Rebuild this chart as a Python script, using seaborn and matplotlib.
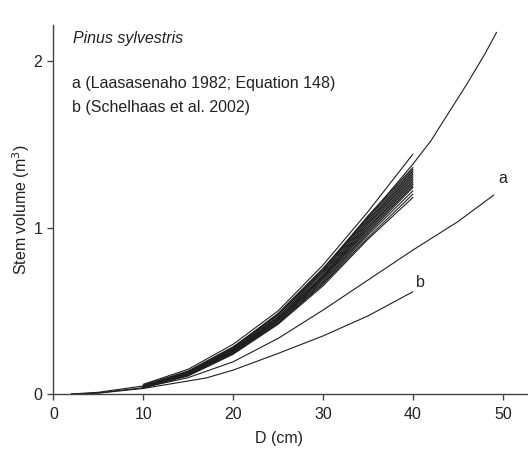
import numpy as np
import pandas as pd
import matplotlib
matplotlib.use('Agg')
import matplotlib.pyplot as plt
import seaborn as sns

sns.set_style('ticks')
plt.rcParams['font.family'] = ['Liberation Sans', 'DejaVu Sans']
plt.rcParams['font.size'] = 11.5

# long curve (top, extends to ~49 cm)
x_long = [2, 5, 10, 15, 20, 25, 30, 35, 40, 42, 44, 46, 48, 49.3]
y_long = [0.002, 0.012, 0.05, 0.135, 0.28, 0.485, 0.755, 1.06, 1.38, 1.52, 1.69, 1.86, 2.04, 2.17]

# curve a (Laasasenaho 1982)
x_a = [2, 5, 10, 15, 20, 25, 30, 35, 40, 45, 49]
y_a = [0.001, 0.008, 0.04, 0.10, 0.195, 0.335, 0.505, 0.685, 0.865, 1.035, 1.195]

# curve b (Schelhaas et al. 2002)
x_b = [2, 5, 10, 15, 17, 20, 25, 30, 35, 40]
y_b = [0.001, 0.007, 0.035, 0.08, 0.098, 0.145, 0.245, 0.35, 0.47, 0.615]

# bundle of curves between 10 and 40 cm
x_bundle = [10, 15, 20, 25, 30, 35, 40]
bundle = [
    [0.06, 0.15, 0.30, 0.50, 0.775, 1.095, 1.44],
    [0.05, 0.135, 0.28, 0.48, 0.75, 1.07, 1.36],
    [0.045, 0.13, 0.275, 0.475, 0.74, 1.06, 1.35],
    [0.055, 0.14, 0.285, 0.48, 0.74, 1.05, 1.34],
    [0.045, 0.125, 0.27, 0.465, 0.73, 1.04, 1.33],
    [0.05, 0.13, 0.27, 0.465, 0.725, 1.035, 1.32],
    [0.04, 0.12, 0.26, 0.455, 0.715, 1.025, 1.31],
    [0.045, 0.125, 0.265, 0.455, 0.71, 1.02, 1.30],
    [0.05, 0.13, 0.265, 0.455, 0.705, 1.01, 1.29],
    [0.04, 0.12, 0.255, 0.445, 0.70, 1.0, 1.28],
    [0.045, 0.125, 0.26, 0.445, 0.695, 0.995, 1.27],
    [0.04, 0.115, 0.25, 0.44, 0.69, 0.985, 1.26],
    [0.045, 0.12, 0.255, 0.44, 0.68, 0.975, 1.25],
    [0.04, 0.115, 0.245, 0.43, 0.675, 0.965, 1.24],
    [0.045, 0.12, 0.25, 0.43, 0.665, 0.955, 1.22],
    [0.04, 0.115, 0.245, 0.425, 0.66, 0.94, 1.20],
    [0.04, 0.11, 0.24, 0.42, 0.65, 0.93, 1.18],
]

rows = []
for xi, yi in zip(x_long, y_long):
    rows.append(('long', xi, yi))
for xi, yi in zip(x_a, y_a):
    rows.append(('a', xi, yi))
for xi, yi in zip(x_b, y_b):
    rows.append(('b', xi, yi))
for k, ys in enumerate(bundle):
    for xi, yi in zip(x_bundle, ys):
        rows.append(('m%d' % k, xi, yi))
df = pd.DataFrame(rows, columns=['curve', 'D', 'V'])

fig = plt.figure(figsize=(5.28, 4.49), dpi=100)
ax = fig.add_axes([0.101, 0.1218, 0.899, 0.8225])
sns.lineplot(data=df, x='D', y='V', units='curve', estimator=None, sort=False,
             color='#1e1e1e', lw=0.8, ax=ax)

ax.set_xlim(0, 52.8)
ax.set_ylim(0, 2.214)
ax.set_xticks([0, 10, 20, 30, 40, 50])
ax.set_yticks([0, 1, 2])
sns.despine(ax=ax)
for s in ['left', 'bottom']:
    ax.spines[s].set_color('#444444')
    ax.spines[s].set_linewidth(1.0)
ax.tick_params(axis='both', colors='#444444', labelcolor='#222222', length=4, width=1.0, labelsize=11.5)
ax.tick_params(axis='x', pad=5)
ax.tick_params(axis='y', pad=4)

ax.set_xlabel('D (cm)', fontsize=11.5, color='#222222')
ax.set_ylabel('Stem volume (m$^3$)', fontsize=11.5, color='#222222', labelpad=1)
ax.xaxis.set_label_coords(0.476, -0.098)

ax.text(2.2, 2.104, 'Pinus sylvestris', style='italic', fontsize=11.5, color='#222222')
ax.text(2.05, 1.834, 'a (Laasasenaho 1982; Equation 148)', fontsize=11.5, color='#222222')
ax.text(2.05, 1.69, 'b (Schelhaas et al. 2002)', fontsize=11.5, color='#222222')
ax.text(49.5, 1.265, 'a', fontsize=11.5, color='#222222')
ax.text(40.3, 0.645, 'b', fontsize=11.5, color='#222222')

fig.savefig('out.png', dpi=100)
plt.close()
